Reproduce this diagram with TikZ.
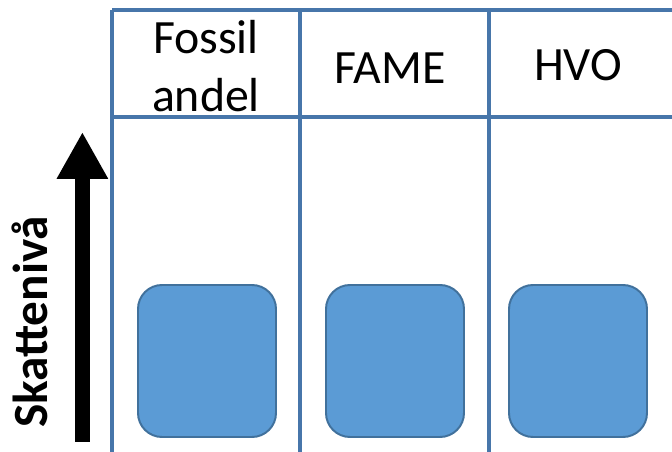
\documentclass[tikz,border=0pt]{standalone}
\usepackage{fontspec}
\setmainfont{Carlito}
\usepackage{tikz}
\usetikzlibrary{arrows.meta,positioning}

\definecolor{gridblue}{RGB}{71,118,170}
\definecolor{boxfill}{RGB}{91,155,213}
\definecolor{boxline}{RGB}{65,113,156}

\begin{document}
\begin{tikzpicture}[
    gridline/.style={gridblue, line width=2.4pt},
    fuelbox/.style={draw=boxline, line width=1.4pt, fill=boxfill, rounded corners=0.6cm,
        minimum width=3.45cm, minimum height=3.8cm, inner sep=0pt},
    headtext/.style={font=\fontsize{34}{41}\selectfont, align=center}
]
    \useasboundingbox (0, 0) rectangle (16.8, 11.3);

    % Table lines
    \draw[gridline] (2.8, 11.05) -- (16.8, 11.05);
    \draw[gridline] (2.8, 8.375) -- (16.8, 8.375);
    \foreach \x in {2.8, 7.5, 12.225}
        \draw[gridline] (\x, 11.05) -- (\x, 0);

    % Headers
    \node[headtext] (fossil) at (5.15, 9.65) {Fossil\\andel};
    \node[headtext] (fame) at (9.75, 9.6) {FAME};
    \node[headtext] (hvo) at (14.45, 9.68) {HVO};

    % Boxes
    \node[fuelbox] (boxfossil) at (5.175, 2.275) {};
    \node[fuelbox] (boxfame) at (9.875, 2.275) {};
    \node[fuelbox] (boxhvo) at (14.45, 2.275) {};

    % Tax level arrow
    \coordinate (arrowlow) at (2.06, 0.25);
    \coordinate (arrowtop) at (2.06, 8.0);
    \draw[-{Triangle[width=1.2cm, length=1.17cm]}, line width=0.375cm] (arrowlow) -- (arrowtop);
    \node[font=\fontsize{35}{40}\selectfont\bfseries, rotate=90] (skatt) at (0.75, 3.25) {Skattenivå};
\end{tikzpicture}
\end{document}
